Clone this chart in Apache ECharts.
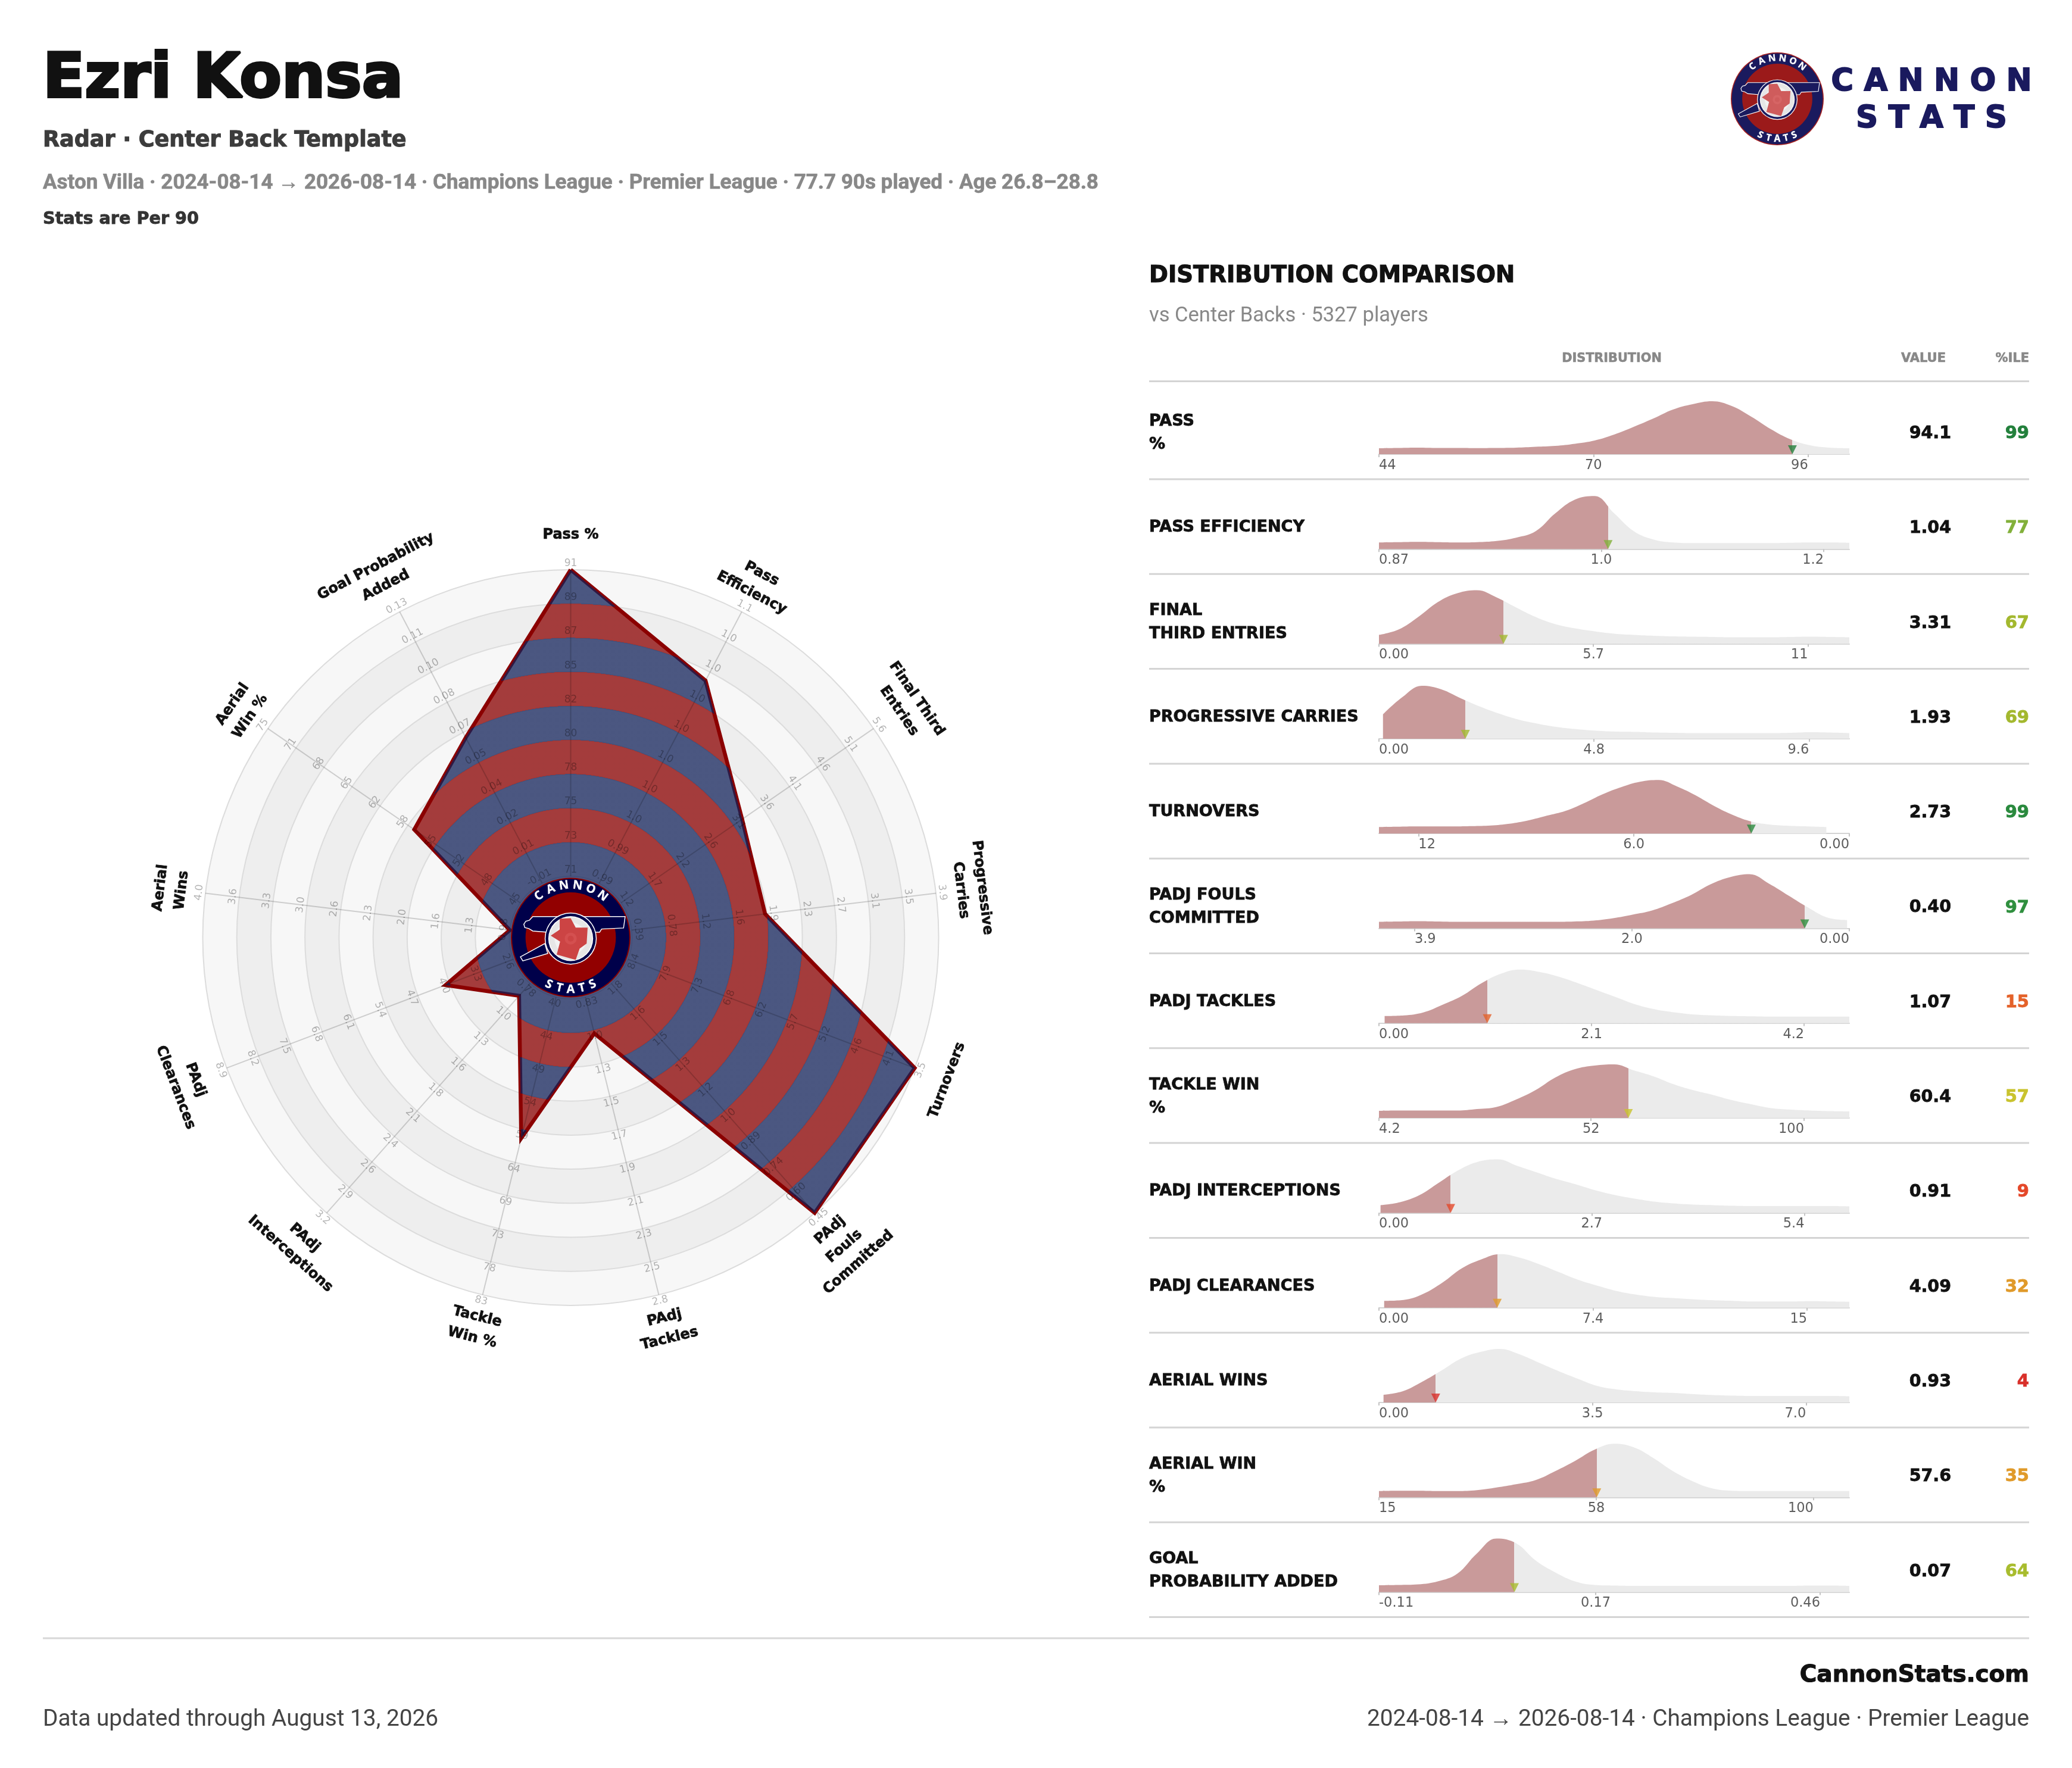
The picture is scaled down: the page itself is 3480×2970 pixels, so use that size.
<!DOCTYPE html>
<html><head><meta charset="utf-8">
<style>html,body{margin:0;padding:0;background:#fff}#c{width:3480px;height:2970px}</style>
<script src="https://cdn.jsdelivr.net/npm/echarts@6/dist/echarts.min.js"></script>
</head><body><div id="c"></div>
<script>
// ---------- radar data (clockwise from the top) ----------
const radarNames = ['Pass %','Pass\nEfficiency','Final Third\nEntries','Progressive\nCarries','Turnovers','PAdj\nFouls\nCommitted','PAdj\nTackles','Tackle\nWin %','PAdj\nInterceptions','PAdj\nClearances','Aerial\nWins','Aerial\nWin %','Goal Probability\nAdded'];
const radarInner = [71,0.987,1.2,0.39,8.4,1.8,0.83,40,0.78,2.6,0.98,45,-0.0103];
const radarOuter = [91,1.058,5.6,3.9,3.5,0.45,2.8,83,3.2,8.9,4.0,75,0.13];
const playerValues = [94.1,1.04,3.31,1.93,2.73,0.40,1.07,60.4,0.91,4.09,0.93,57.6,0.065];
const radarTicks = [
 ['71','73','75','78','80','82','85','87','89','91'],
 ['0.99','0.99','1.0','1.0','1.0','1.0','1.0','1.0','1.0','1.1'],
 ['1.2','1.7','2.2','2.6','3.1','3.6','4.1','4.6','5.1','5.6'],
 ['0.39','0.78','1.2','1.6','1.9','2.3','2.7','3.1','3.5','3.9'],
 ['8.4','7.9','7.3','6.8','6.2','5.7','5.2','4.6','4.1','3.5'],
 ['1.8','1.6','1.5','1.3','1.2','1.0','0.89','0.74','0.60','0.45'],
 ['0.83','1.0','1.3','1.5','1.7','1.9','2.1','2.3','2.5','2.8'],
 ['40','44','49','54','59','64','69','73','78','83'],
 ['0.78','1.0','1.3','1.6','1.8','2.1','2.4','2.6','2.9','3.2'],
 ['2.6','3.3','4.0','4.7','5.4','6.1','6.8','7.5','8.2','8.9'],
 ['0.98','1.3','1.6','2.0','2.3','2.6','3.0','3.3','3.6','4.0'],
 ['45','48','52','55','58','62','65','68','71','75'],
 ['-0.01','0.01','0.02','0.04','0.05','0.07','0.08','0.10','0.11','0.13']
];
// ---------- distribution table data ----------
const rowLabels = ['PASS\n%','PASS EFFICIENCY','FINAL\nTHIRD ENTRIES','PROGRESSIVE CARRIES','TURNOVERS','PADJ FOULS\nCOMMITTED','PADJ TACKLES','TACKLE WIN\n%','PADJ INTERCEPTIONS','PADJ CLEARANCES','AERIAL WINS','AERIAL WIN\n%','GOAL\nPROBABILITY ADDED'];
const valueText = ['94.1','1.04','3.31','1.93','2.73','0.40','1.07','60.4','0.91','4.09','0.93','57.6','0.07'];
const percentiles = [99,77,67,69,99,97,15,57,9,32,4,35,64];
const pctColors = ['#23803c','#82b03a','#a3b82e','#a3b82e','#2a8a3e','#2f8f3e','#e4622a','#c9c32e','#e4482a','#e09a2a','#d9302a','#e09a2a','#a8bc2e'];
const axisLeft  = [44,0.87,0,0,13.1,4.22,0,4.2,0,0,0,15,-0.11];
const axisRight = [101,1.219,12.5,10.5,0,0,4.646,110.2,5.97,16.26,7.71,107,0.4977];
const curveLeft  = [44,0.87,0,0.09,13.1,4.22,0.056,4.2,0.02,0.18,0.075,15,-0.11];
const curveRight = [101,1.219,12.5,10.5,0.64,0.02,4.646,110.2,5.97,16.26,7.71,107,0.4977];
const tickValues = [[44,70,96],[0.87,1.035,1.2],[0,5.7,11.4],[0,4.8,9.6],[12,6,0],[3.9,1.95,0],[0,2.1,4.2],[4.2,52,100],[0,2.7,5.4],[0,7.4,14.8],[0,3.5,7],[15,57.5,100],[-0.11,0.17,0.46]];
const tickText = [['44','70','96'],['0.87','1.0','1.2'],['0.00','5.7','11'],['0.00','4.8','9.6'],['12','6.0','0.00'],['3.9','2.0','0.00'],['0.00','2.1','4.2'],['4.2','52','100'],['0.00','2.7','5.4'],['0.00','7.4','15'],['0.00','3.5','7.0'],['15','58','100'],['-0.11','0.17','0.46']];
const densities = [
 [10,10.5,11,10.5,10.5,10.3,10.5,11,12.5,14,17.5,23,33,46,60,75,84,89,81,63,42,25,15,11,10],
 [11,11.5,12,11.5,11,11.5,13.5,19,30,60,83,89,60,30,16,11,10,10,10,10,10,10.5,11,11,10.5],
 [15,24,45,70,85,90,78,61,45,33,26,21,17,15,13.5,12.5,12,11.5,11,11,11,11.5,12,11.5,11],
 [41,70,89,83,68,54,42,32,25,19.5,16,13.5,12,11.5,10.5,10,9.5,9.5,9.5,9.5,9.5,10,11,10.5,9.5],
 [11,11.5,12,12,12,12.5,13.5,16.5,22,30,38,51,66,78,87,90,79,64,46,31,20,15,13,12,11],
 [11,11.5,12,11.5,11,11,11,11,11,11,11.5,13,17,23,30,42,56,74,86,91,75,55,35,18,14],
 [12,13,18,31,46,67,83,90,86,78,67,55,43,31,23,18,14.5,13,12,11.5,11,11,11,11,11],
 [12,12.5,12.5,12.5,12.5,15,18.5,31,47,68,82,88,90,80,70,57,47,39,30,23,16.5,14,12.5,11.5,11],
 [13,18,30,51,72,86,90,79,68,57,48,38,30,24,19,16,14,13,12,11.5,11.5,11.5,11.5,11.5,11],
 [11.5,13,23,42,66,81,90,84,73,60,47,37,28,22,18,16,14,12.5,11.5,10.5,10.5,10.5,11,10.5,10],
 [13,19,35,54,74,85,90,81,67,53,40,28,22,19,17,16,14,12.5,11.5,11,11,11,11,11,10.5],
 [10.5,11,11,10.5,10.5,12,16.5,22,29,44,61,80,90,84,66,44,27,15,11,10.5,10.5,10.5,10.5,10.5,10.5],
 [11.5,12,13,18,31,65,90,82,53,33,18,12,11,10.5,10.5,10.5,10.5,10.5,10.5,10.5,10.5,10.5,11,11,10.5]
];

// ---------- layout ----------
const CX=958.5, CY=1575, R0=103, R1=618, N=radarNames.length;
const nameRadius=[676,672,688,678,676,693,676,674,692,692,676,672,686];
const FW='"DejaVu Sans"', FN='Roboto';
const BAND_BLUE='rgba(17,33,89,0.75)', BAND_RED='rgba(139,0,0,0.75)';
const g=[];
function txt(t,x,y,o){o=o||{};const bold=o.weight==='bold'&&o.stroke!==0;g.push({type:'text',x:x,y:y,rotation:-(o.rot||0)*Math.PI/180,z:o.z==null?5:o.z,silent:true,
  style:{text:t,x:0,y:0,fill:o.color||'#111',stroke:bold?(o.color||'#111'):null,lineWidth:bold?(o.stroke||(o.size||24)*0.03):0,font:(o.weight||'normal')+' '+(o.size||24)+'px '+(o.font||FW),
  textAlign:o.align||'left',textVerticalAlign:o.valign||'middle',align:o.align||'left',verticalAlign:o.valign||'middle',lineHeight:o.lh||undefined,textLineHeight:o.lh||undefined}});}

// header
txt('Ezri Konsa',72,136,{size:103,weight:'bold',color:'#111',stroke:4});
txt('Radar · Center Back Template',72,237,{size:36.5,weight:'bold',color:'#3c3c3c'});
txt('Aston Villa · 2024-08-14 → 2026-08-14 · Champions League · Premier League · 77.7 90s played · Age 26.8–28.8',72,308,{size:35,font:FN,weight:'bold',color:'#888',stroke:0.6});
txt('Stats are Per 90',72,369,{size:28.7,weight:'bold',color:'#333'});
txt('DISTRIBUTION COMPARISON',1930,464,{size:38.5,weight:'bold',color:'#111'});
txt('vs Center Backs · 5327 players',1930,531,{size:34.5,font:FN,color:'#888'});
txt('DISTRIBUTION',2707,603,{size:20.8,weight:'bold',color:'#888',align:'center'});
txt('VALUE',3268,603,{size:21,weight:'bold',color:'#888',align:'right'});
txt('%ILE',3408,603,{size:21,weight:'bold',color:'#888',align:'right'});
// footer
g.push({type:'line',z:1,silent:true,shape:{x1:72,y1:2752,x2:3408,y2:2752},style:{stroke:'#d8d8d8',lineWidth:3}});
txt('CannonStats.com',3408,2815,{size:39,weight:'bold',color:'#111',align:'right'});
txt('2024-08-14 → 2026-08-14 · Champions League · Premier League',3408,2889,{size:38.8,font:FN,color:'#444',align:'right'});
txt('Data updated through August 13, 2026',72,2889,{size:38.8,font:FN,color:'#444'});
// wordmark
txt('C A N N O N',3244,139,{size:51,weight:'bold',color:'#1a1a5e',align:'center',stroke:2});
txt('S T A T S',3244,201,{size:51,weight:'bold',color:'#1a1a5e',align:'center',stroke:2});

// radar spokes and tick labels (over the polygon) and names
function tangent(a){let d=a;if(d>90&&d<270)d-=180;if(d>=270)d-=360;return d;}
radarTicks.forEach((ticks,i)=>{
  const a=i*360/N, rad=a*Math.PI/180, rot=tangent(a), sx=Math.sin(rad), sy=Math.cos(rad);
  g.push({type:'line',z:4,silent:true,shape:{x1:CX+R0*sx,y1:CY-R0*sy,x2:CX+R1*sx,y2:CY-R1*sy},style:{stroke:'rgba(0,0,0,0.17)',lineWidth:2}});
  ticks.forEach((t,k)=>{
    const r=R0+k*(R1-R0)/9+10.5;
    txt(t,CX+r*sx,CY-r*sy,{size:17,color:'rgba(0,0,0,0.3)',align:'center',rot:rot,z:4});
  });
  const nr=nameRadius[i];
  txt(radarNames[i],CX+nr*sx,CY-nr*sy,{size:24,weight:'bold',color:'#111',align:'center',rot:rot,lh:36,z:5});
});

// badge
function badge(cx,cy,R,c,z){
  const P=(pts)=>pts.map(p=>[cx+(p[0]-415)/300*R,cy+(p[1]-385)/300*R]);
  const circ=(r,fill,stroke,lw,ox,oy)=>g.push({type:'circle',z:z,silent:true,shape:{cx:cx+(ox||0)*R,cy:cy+(oy||0)*R,r:r*R},style:{fill:fill,stroke:stroke||null,lineWidth:lw||0}});
  const poly=(pts,fill,stroke,lw)=>g.push({type:'polygon',z:z,silent:true,shape:{points:P(pts)},style:{fill:fill,stroke:stroke||null,lineWidth:lw||0}});
  circ(1,c.rim); circ(0.98,c.navy); circ(0.755,c.red);
  const lw=R/70;
  poly([[163,482],[285,415],[300,465],[175,502]],c.navy,'#fff',lw);
  poly([[225,280],[688,280],[680,337],[570,342],[560,358],[300,358],[225,352],[205,340],[185,335],[180,318],[190,303],[208,298]],c.navy,'#fff',lw);
  circ(0.435,'#fff',null,0,0,0.017); circ(0.42,c.navy,null,0,0,0.017); circ(0.375,'#fff',null,0,0,0.017); circ(0.36,'#e6e6e6',null,0,0,0.017); circ(0.27,'#f2f2f2',null,0,0,0.017);
  poly([[360,290],[415,288],[440,335],[500,335],[495,415],[460,440],[440,497],[345,470],[362,405],[315,375],[360,345]],c.tex);
  circ(0.1,c.tex2,null,0,0,0.017); circ(0.05,c.tex,null,0,0,0.017);
  const fs=R*0.2;
  'CANNON'.split('').forEach((l,i)=>{const deg=-37.5+i*15,a=deg*Math.PI/180,r=R*0.875;
    txt(l,cx+r*Math.sin(a),cy-r*Math.cos(a),{size:fs,weight:'bold',font:'"Open Sans"',color:'#fff',align:'center',rot:deg,z:z,stroke:0.3});});
  'STATS'.split('').forEach((l,i)=>{const deg=25-i*12.5,a=deg*Math.PI/180,r=R*0.865;
    txt(l,cx-r*Math.sin(a),cy+r*Math.cos(a),{size:fs,weight:'bold',font:'"Open Sans"',color:'#fff',align:'center',rot:deg,z:z,stroke:0.3});});
}
badge(CX,CY,100.5,{rim:'#8b0000',navy:'#00004a',red:'#920000',tex:'#cc4444',tex2:'#d45050'},10);
badge(2985,166,78,{rim:'#a52020',navy:'#1a1a5e',red:'#9b1a1a',tex:'#cf5c5c',tex2:'#d66565'},10);

// table furniture
const rowBottom=i=>805+159.3*i;
g.push({type:'line',z:1,silent:true,shape:{x1:1930,y1:640.5,x2:3408,y2:640.5},style:{stroke:'#d4d4d4',lineWidth:3}});
rowLabels.forEach((l,i)=>{
  const b=rowBottom(i), yc=b-78;
  g.push({type:'line',z:1,silent:true,shape:{x1:1930,y1:b,x2:3408,y2:b},style:{stroke:'#d4d4d4',lineWidth:3}});
  txt(l,1930,yc,{size:27,weight:'bold',color:'#111',lh:39,stroke:0.8});
  txt(valueText[i],3277,yc+1.5,{size:28.5,weight:'bold',color:'#111',align:'right',stroke:0.8});
  txt(String(percentiles[i]),3408,yc+1.5,{size:29,weight:'bold',color:pctColors[i],align:'right',stroke:0.8});
});

// ---------- ECharts option ----------
const grids=[],xAxes=[],yAxes=[],series=[];
rowLabels.forEach((l,i)=>{
  const base=rowBottom(i)-42, lo=Math.min(axisLeft[i],axisRight[i]), hi=Math.max(axisLeft[i],axisRight[i]);
  grids.push({left:2316,width:790,top:base-100,height:100,containLabel:false});
  xAxes.push({type:'value',gridIndex:i,min:lo,max:hi,inverse:axisLeft[i]>axisRight[i],
    axisLine:{show:true,onZero:false,lineStyle:{color:'#d4d4d4',width:2}},
    axisTick:{show:true,length:5,customValues:tickValues[i],lineStyle:{color:'#c4c4c4',width:2}},
    axisLabel:{show:false},splitLine:{show:false}});
  yAxes.push({type:'value',gridIndex:i,min:0,max:100,show:false});
  const d=densities[i], n=d.length;
  const pts=d.map((h,k)=>[curveLeft[i]+(curveRight[i]-curveLeft[i])*k/(n-1),h]);
  const stop=(playerValues[i]-curveLeft[i])/(curveRight[i]-curveLeft[i]);
  series.push({type:'line',xAxisIndex:i,yAxisIndex:i,data:pts,showSymbol:false,symbol:'none',smooth:0.4,clip:false,silent:true,animation:false,z:2,
    lineStyle:{width:0},
    areaStyle:{opacity:1,origin:'start',color:{type:'linear',x:0,y:0,x2:1,y2:0,colorStops:[{offset:0,color:'#c99a9a'},{offset:stop,color:'#c99a9a'},{offset:stop,color:'#ebebeb'},{offset:1,color:'#ebebeb'}]}}});
  series.push({type:'scatter',xAxisIndex:i,yAxisIndex:i,silent:true,animation:false,clip:false,z:3,symbolSize:1,itemStyle:{color:'rgba(0,0,0,0)'},
    data:tickValues[i].map((v,k)=>({value:[v,0],label:{show:true,position:'bottom',distance:7,formatter:tickText[i][k],align:k===0?'left':(k===2?'right':'center'),color:'#333',fontFamily:FW,fontSize:22.5}}))});
  series.push({type:'scatter',xAxisIndex:i,yAxisIndex:i,silent:true,animation:false,clip:false,z:4,symbol:'triangle',symbolRotate:180,symbolSize:[15,15],symbolOffset:[0,-7.5],
    itemStyle:{color:pctColors[i]},data:[[playerValues[i],0]]});
});

// radar: indicators run counter-clockwise in ECharts, so the list is mirrored
const order=[0]; for(let i=N-1;i>0;i--) order.push(i);
const sign=radarInner.map((v,i)=>v>radarOuter[i]?-1:1);
const indicator=order.map(i=>({name:radarNames[i],min:sign[i]*radarInner[i],max:sign[i]*radarOuter[i]}));
const radarData=order.map(i=>{const lo=sign[i]*radarInner[i],hi=sign[i]*radarOuter[i];return Math.min(hi,Math.max(lo,sign[i]*playerValues[i]));});
const stops=[{offset:0,color:BAND_BLUE}];
for(let k=0;k<9;k++){const a=(R0+k*(R1-R0)/9)/R1,b=(R0+(k+1)*(R1-R0)/9)/R1,col=k%2?BAND_RED:BAND_BLUE;stops.push({offset:a,color:col},{offset:b,color:col});}
series.push({type:'radar',radarIndex:0,symbol:'none',silent:true,animation:false,z:3,
  lineStyle:{color:'#8b0000',width:6.5,join:'miter',miterLimit:20,opacity:1},
  areaStyle:{opacity:1,color:{type:'radial',x:CX,y:CY,r:R1,global:true,colorStops:stops}},
  data:[{value:radarData}]});

const chart=echarts.init(document.getElementById('c'),null,{renderer:'canvas',width:3480,height:2970,devicePixelRatio:1});
chart.setOption({animation:false,backgroundColor:'#fff',
  radar:{center:[CX,CY],radius:[R0,R1],startAngle:90,splitNumber:9,shape:'circle',indicator:indicator,
    axisName:{show:false},axisTick:{show:false},axisLabel:{show:false},
    axisLine:{show:false},
    splitLine:{lineStyle:{color:'#dcdcdc',width:2}},
    splitArea:{show:true,areaStyle:{color:['#f7f7f7','#eeeeee']}}},
  grid:grids,xAxis:xAxes,yAxis:yAxes,series:series,graphic:{elements:g}});
</script></body></html>
